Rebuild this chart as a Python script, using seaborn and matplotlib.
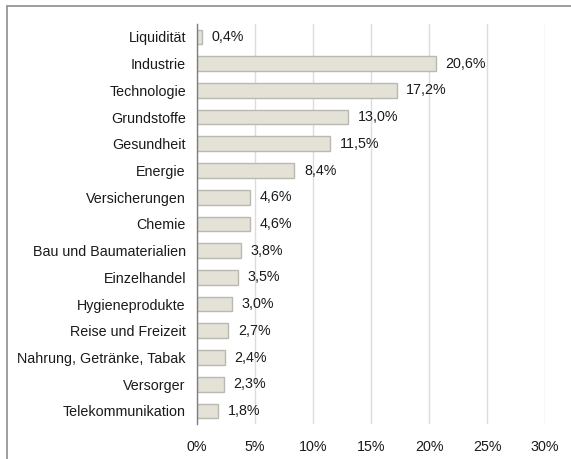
import matplotlib
matplotlib.use("Agg")
import matplotlib.pyplot as plt
import seaborn as sns
import pandas as pd
from matplotlib.patches import Rectangle

categories = ["Liquidität", "Industrie", "Technologie", "Grundstoffe", "Gesundheit",
              "Energie", "Versicherungen", "Chemie", "Bau und Baumaterialien",
              "Einzelhandel", "Hygieneprodukte", "Reise und Freizeit",
              "Nahrung, Getränke, Tabak", "Versorger", "Telekommunikation"]
values = [0.4, 20.6, 17.2, 13.0, 11.5, 8.4, 4.6, 4.6, 3.8, 3.5, 3.0, 2.7, 2.4, 2.3, 1.8]
xticks = [0, 5, 10, 15, 20, 25, 30]
xtick_labels = ["0%", "5%", "10%", "15%", "20%", "25%", "30%"]

df = pd.DataFrame({"cat": categories, "val": values})

sns.set_style("white")
plt.rcParams["font.family"] = ["Liberation Sans", "DejaVu Sans"]

FS = 10.3

fig = plt.figure(figsize=(5.71, 4.59), dpi=100)
ax = fig.add_axes([197/571, 1 - 424.3/459, (545-197)/571, (424.3-23.6)/459])

sns.barplot(data=df, x="val", y="cat", orient="h", ax=ax, color="#E4E2D7",
            edgecolor="#B9B9B2", linewidth=1.0, width=0.55, saturation=1)

ax.set_xlim(0, 30)
ax.set_ylim(14.5, -0.5)
ax.set_xticks(xticks)
ax.set_xticklabels(xtick_labels)
ax.set_xlabel("")
ax.set_ylabel("")
ax.tick_params(axis="both", length=0, labelsize=FS, colors="#1a1a1a")
ax.tick_params(axis="x", pad=11)
ax.tick_params(axis="y", pad=8)

ax.xaxis.grid(True, color="#DCDCDC", linewidth=1.0)
ax.set_axisbelow(True)
for s in ["top", "right", "bottom"]:
    ax.spines[s].set_visible(False)
ax.spines["left"].set_color("#7f7f7f")
ax.spines["left"].set_linewidth(1.0)

for i, v in enumerate(values):
    ax.annotate(f"{v:.1f}%".replace(".", ","), xy=(v, i), xytext=(7, 0),
                textcoords="offset points", va="center", ha="left",
                fontsize=FS, color="#1a1a1a")

fig.patches.append(Rectangle((7/571, -0.1), 1.2, 1 - 6/459 + 0.1,
                             transform=fig.transFigure, fill=False,
                             edgecolor="#8c8c8c", linewidth=1.2, figure=fig))

fig.savefig("out.png", dpi=100)
